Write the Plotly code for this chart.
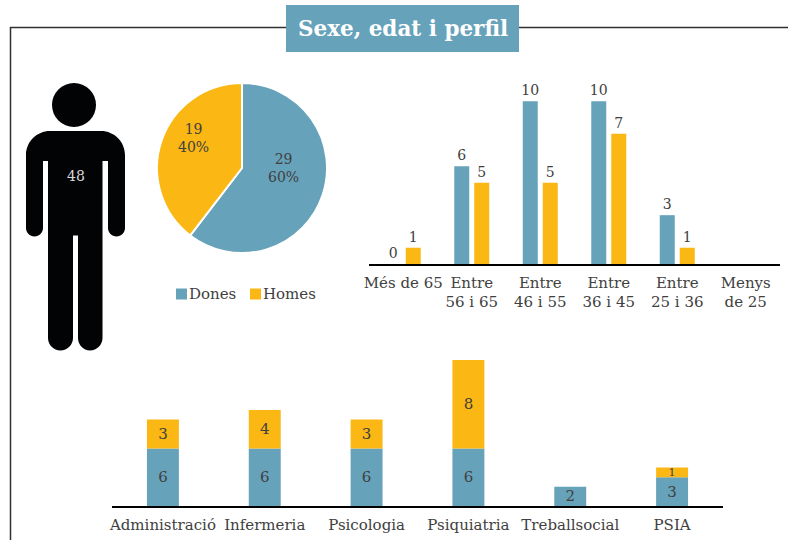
import plotly.graph_objects as go

W, H = 788, 540
BLUE = "#67A2BB"
ORANGE = "#FBB713"
TEXT = "#404040"
FONT = "DejaVu Serif"

# Data
pie_labels = ["Dones", "Homes"]
pie_values = [29, 19]
total_people = "48"

age_groups = ["Més de 65", "Entre<br>56 i 65", "Entre<br>46 i 55", "Entre<br>36 i 45", "Entre<br>25 i 36", "Menys<br>de 25"]
age_dones = [0, 6, 10, 10, 3, None]
# The reference draws two orange bars taller than their printed labels: heights are as drawn, labels as printed.
age_homes_drawn = [1, 5, 5, 8, 1, None]
age_homes_labels = ["1", "5", "5", "7", "1", None]

professions = ["Administració", "Infermeria", "Psicologia", "Psiquiatria", "Treballsocial", "PSIA"]
prof_dones = [6, 6, 6, 6, 2, 3]
prof_homes_drawn = [3, 4, 3, 9.2, None, 1]
prof_homes_labels = ["3", "4", "3", "8", None, "1"]


def px(x):
    return x / W


def py(y):
    return 1 - y / H


def path(cmds):
    out = []
    for c in cmds:
        op, pts = c[0], c[1:]
        out.append(op + " ".join(f"{px(pts[i]):.5f},{py(pts[i+1]):.5f}" for i in range(0, len(pts), 2)))
    return " ".join(out) + " Z"


k = 0.55
def corner(x0, y0, x1, y1, horizontal_first):
    if horizontal_first:
        return ("C", x0 + (x1 - x0) * k, y0, x1, y1 - (y1 - y0) * k, x1, y1)
    return ("C", x0, y0 + (y1 - y0) * k, x1 - (x1 - x0) * k, y1, x1, y1)


body = path([
    ("M", 50, 131), ("L", 101, 131),
    corner(101, 131, 125, 155, True),
    ("L", 125, 228),
    corner(125, 228, 116.5, 236.5, False),
    corner(116.5, 236.5, 108, 228, True),
    ("L", 108, 161), ("L", 102.5, 161), ("L", 102.5, 338),
    corner(102.5, 338, 90, 350.5, False),
    corner(90, 350.5, 78, 338, True),
    ("L", 78, 235.5), ("L", 73, 235.5), ("L", 73, 338),
    corner(73, 338, 60.5, 350.5, False),
    corner(60.5, 350.5, 48, 338, True),
    ("L", 48, 161), ("L", 43, 161), ("L", 43, 228),
    corner(43, 228, 34.5, 236.5, False),
    corner(34.5, 236.5, 26, 228, True),
    ("L", 26, 155),
    corner(26, 155, 50, 131, False),
])

shapes = [
    dict(type="path", xref="paper", yref="paper", path=body, fillcolor="#020305", line=dict(width=0), layer="below"),
    dict(type="circle", xref="paper", yref="paper", x0=px(52), x1=px(96), y0=py(127), y1=py(83),
         fillcolor="#020305", line=dict(width=0), layer="below"),
    dict(type="path", xref="paper", yref="paper", layer="below", fillcolor="rgba(0,0,0,0)",
         path=f"M{px(10.5)},0 L{px(10.5)},{py(27.5)} L1,{py(27.5)}", line=dict(color="#303030", width=1.5)),
    dict(type="rect", xref="paper", yref="paper", x0=px(286), x1=px(519), y0=py(52), y1=py(5),
         fillcolor=BLUE, line=dict(width=0), layer="below"),
    # legend swatches
    dict(type="rect", xref="paper", yref="paper", x0=px(176), x1=px(187), y0=py(299.5), y1=py(288.5),
         fillcolor=BLUE, line=dict(width=0)),
    dict(type="rect", xref="paper", yref="paper", x0=px(250), x1=px(261), y0=py(299.5), y1=py(288.5),
         fillcolor=ORANGE, line=dict(width=0)),
]


def note(text, x, y, size=15, color=TEXT, xanchor="center"):
    return dict(text=text, x=px(x), y=py(y), xref="paper", yref="paper", showarrow=False,
                xanchor=xanchor, yanchor="middle", font=dict(family=FONT, size=size, color=color))


total = sum(pie_values)
annotations = [
    note("<b>Sexe, edat i perfil</b>", 403, 29, size=21.5, color="white"),
    note(total_people, 76, 176, size=14, color="#D9D9D9"),
    note(pie_labels[0], 187, 294, xanchor="left"),
    note(pie_labels[1], 261, 294, xanchor="left"),
    note(f"{pie_values[0]}<br>{pie_values[0] / total:.0%}", 283, 168, size=14),
    note(f"{pie_values[1]}<br>{pie_values[1] / total:.0%}", 193, 138, size=14),
]

fig = go.Figure()

fig.add_trace(go.Pie(
    labels=pie_labels, values=pie_values, sort=False, direction="clockwise", rotation=0,
    marker=dict(colors=[BLUE, ORANGE], line=dict(color="white", width=2)),
    domain=dict(x=[px(157), px(327)], y=[py(253), py(83)]),
    textinfo="none", showlegend=False,
))


def lab(vals):
    return [None if v is None else str(v) for v in vals]


common = dict(width=15 / 68.5, textposition="outside", constraintext="none", cliponaxis=False, showlegend=False,
              textangle=0, textfont=dict(family=FONT, size=14, color=TEXT), xaxis="x", yaxis="y")
fig.add_trace(go.Bar(x=age_groups, y=age_dones, text=lab(age_dones), marker=dict(color=BLUE, line=dict(width=0)),
                     offset=-17.5 / 68.5, **common))
fig.add_trace(go.Bar(x=age_groups, y=age_homes_drawn, text=age_homes_labels, marker=dict(color=ORANGE, line=dict(width=0)),
                     offset=2.5 / 68.5, **common))

common2 = dict(width=32 / 102, textposition="inside", insidetextanchor="middle", constraintext="none", showlegend=False,
               textangle=0, xaxis="x2", yaxis="y2")
fig.add_trace(go.Bar(x=professions, y=prof_dones, text=lab(prof_dones), marker=dict(color=BLUE, line=dict(width=0)),
                     textfont=dict(family=FONT, size=15, color=TEXT), **common2))
fig.add_trace(go.Bar(x=professions, y=prof_homes_drawn, base=prof_dones, text=prof_homes_labels,
                     marker=dict(color=ORANGE, line=dict(width=0)),
                     textfont=dict(family=FONT, size=[15, 15, 15, 15, 15, 11], color=TEXT), **common2))

axis_x = dict(type="category", showline=True, linecolor="#000000", linewidth=1.5, showgrid=False, zeroline=False,
              ticks="outside", ticklen=4, tickcolor="rgba(0,0,0,0)", range=[-0.5, 5.5],
              tickangle=0, tickfont=dict(family=FONT, size=15, color=TEXT))
axis_y = dict(visible=False, showgrid=False, zeroline=False)
fig.update_layout(
    width=W, height=H, autosize=False, margin=dict(l=0, r=0, t=0, b=0, autoexpand=False),
    paper_bgcolor="white", plot_bgcolor="rgba(0,0,0,0)", barmode="overlay", showlegend=False,
    xaxis=dict(axis_x, domain=[px(369), px(780)], anchor="y", categoryorder="array", categoryarray=age_groups),
    yaxis=dict(axis_y, domain=[py(264), py(85)], range=[0, 11], anchor="x"),
    xaxis2=dict(axis_x, domain=[px(112), px(723)], anchor="y2", categoryorder="array", categoryarray=professions),
    yaxis2=dict(axis_y, domain=[py(506), py(352.4)], range=[0, 16], anchor="x2"),
    shapes=shapes, annotations=annotations, font=dict(family=FONT),
)

fig.write_html("out.html", config=dict(displayModeBar=False),
               post_script="document.body.style.margin='0';document.body.style.overflow='hidden';")
